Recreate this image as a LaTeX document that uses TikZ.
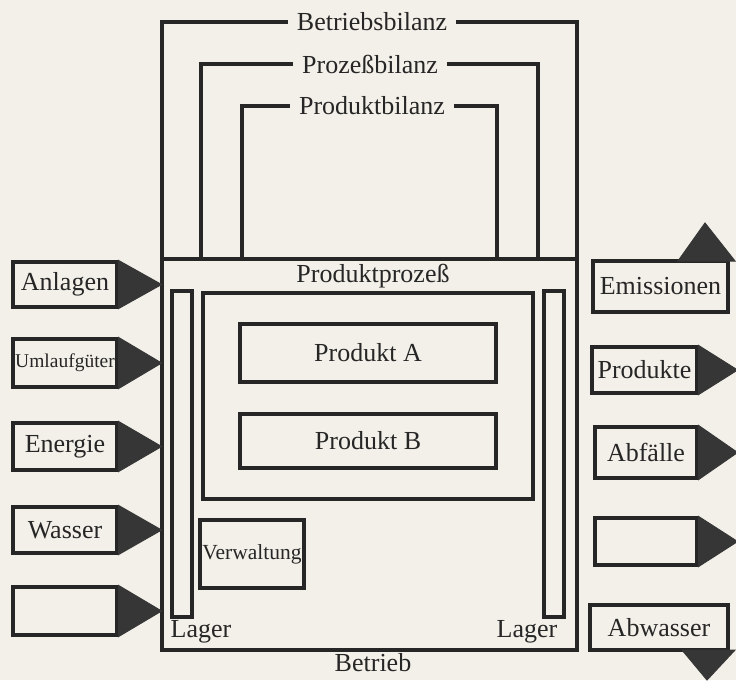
\documentclass[tikz,border=0pt]{standalone}
\usepackage{fontspec}
\setmainfont{Liberation Serif}
\usetikzlibrary{calc}
\definecolor{paper}{HTML}{F2F0E8}
\definecolor{ink}{HTML}{262626}
\definecolor{headfill}{HTML}{363636}
\tikzset{
  frame/.style={draw=ink, line width=3.4pt},
  mainframe/.style={draw=ink, line width=3.8pt},
  rect/.style={draw=ink, line width=3.1pt, inner sep=0pt},
  lbl/.style={inner sep=0pt, text=ink, font=\fontsize{26}{26}\selectfont},
  smalllbl/.style={inner sep=0pt, text=ink, font=\fontsize{19.5}{19.5}\selectfont},
  midlbl/.style={inner sep=0pt, text=ink, font=\fontsize{21.5}{21.5}\selectfont},
  bilanz/.style={lbl, inner xsep=9pt},
  bracket/.style={draw=ink, line width=3.3pt},
  head/.style={fill=headfill, draw=headfill, line width=1pt, line join=miter},
}
\begin{document}
\begin{tikzpicture}[x=1pt, y=-1pt]
\useasboundingbox (0,0) rectangle (736,680);
\fill[paper] (0,0) rectangle (736,680);

% --- main plant frame and its parts ---
\node[mainframe, minimum width=415pt, minimum height=391pt, inner sep=0pt] (betrieb) at (369.5,454.5) {};
\node[frame, minimum width=330pt, minimum height=206pt, inner sep=0pt] (prozess) at (368,396) {};
\node[rect, minimum width=20pt, minimum height=326pt] (lagerL) at (182,454) {};
\node[rect, minimum width=20pt, minimum height=326pt] (lagerR) at (554,454) {};
\node[rect, minimum width=256pt, minimum height=58pt] (prodA) at (368,353) {};
\node[rect, minimum width=256pt, minimum height=54pt] (prodB) at (368,441) {};
\node[rect, minimum width=104pt, minimum height=68pt] (verw) at (252,554) {};

\node[lbl] (tprozess) at (373,276) {Produktprozeß};
\node[lbl] at (prodA) {Produkt A};
\node[lbl] at (prodB) {Produkt B};
\node[midlbl] at (verw) {Verwaltung};
\node[lbl] (tlagerL) at (201,632) {Lager};
\node[lbl] (tlagerR) at (527,632) {Lager};
\node[lbl] (tbetrieb) at (373,663) {Betrieb};

% --- balance brackets above the plant ---
\node[bilanz] (bb) at (372,22) {Betriebsbilanz};
\node[bilanz] (pzb) at (370,64) {Prozeßbilanz};
\node[bilanz] (pdb) at (372,106) {Produktbilanz};
\coordinate (bbL) at (162,259);
\coordinate (bbR) at (577,259);
\coordinate (pzL) at (201,259);
\coordinate (pzR) at (538,259);
\coordinate (pdL) at (242,259);
\coordinate (pdR) at (497,259);
\draw[bracket] (bb.west) -| (bbL);
\draw[bracket] (bb.east) -| (bbR);
\draw[bracket] (pzb.west) -| (pzL);
\draw[bracket] (pzb.east) -| (pzR);
\draw[bracket] (pdb.west) -| (pdL);
\draw[bracket] (pdb.east) -| (pdR);

% --- inputs on the left ---
\node[rect, minimum width=104pt, minimum height=45pt] (in1) at (65,284.5) {};
\node[rect, minimum width=104pt, minimum height=48pt] (in2) at (65,363) {};
\node[rect, minimum width=104pt, minimum height=47pt] (in3) at (65,446.5) {};
\node[rect, minimum width=104pt, minimum height=46pt] (in4) at (65,530) {};
\node[rect, minimum width=104pt, minimum height=48pt] (in5) at (65,611) {};
\node[lbl] at (in1) {Anlagen};
\node[smalllbl] at (in2) {Umlaufgüter};
\node[lbl] at (in3) {Energie};
\node[lbl] at (in4) {Wasser};
\foreach \n in {in1,in2,in3,in4,in5}{
  \path (\n.east) -- ++(43,0) coordinate (\n tip);
  \filldraw[head] (\n.north east) -- (\n tip) -- (\n.south east) -- cycle;
}

% --- outputs on the right ---
\node[rect, minimum width=135pt, minimum height=51pt] (out1) at (660.5,286.5) {};
\node[rect, minimum width=105pt, minimum height=46pt] (out2) at (644.5,370) {};
\node[rect, minimum width=102pt, minimum height=51pt] (out3) at (646,452.5) {};
\node[rect, minimum width=102pt, minimum height=47pt] (out4) at (646,541.5) {};
\node[rect, minimum width=138pt, minimum height=45pt] (out5) at (659,627.5) {};
\node[lbl] at (out1) {Emissionen};
\node[lbl] at (out2) {Produkte};
\node[lbl] at (out3) {Abfälle};
\node[lbl] at (out5) {Abwasser};
\foreach \n in {out2,out3,out4}{
  \path (\n.east) -- ++(39,0) coordinate (\n tip);
  \filldraw[head] (\n.north east) -- (\n tip) -- (\n.south east) -- cycle;
}
\coordinate (e1a) at (678,261);
\coordinate (e1b) at (735,261);
\coordinate (e1tip) at (705,223);
\filldraw[head] (e1a) -- (e1tip) -- (e1b) -- cycle;
\coordinate (e5a) at (682,650);
\coordinate (e5b) at (735,650);
\coordinate (e5tip) at (707,680);
\filldraw[head] (e5a) -- (e5tip) -- (e5b) -- cycle;
\end{tikzpicture}
\end{document}
